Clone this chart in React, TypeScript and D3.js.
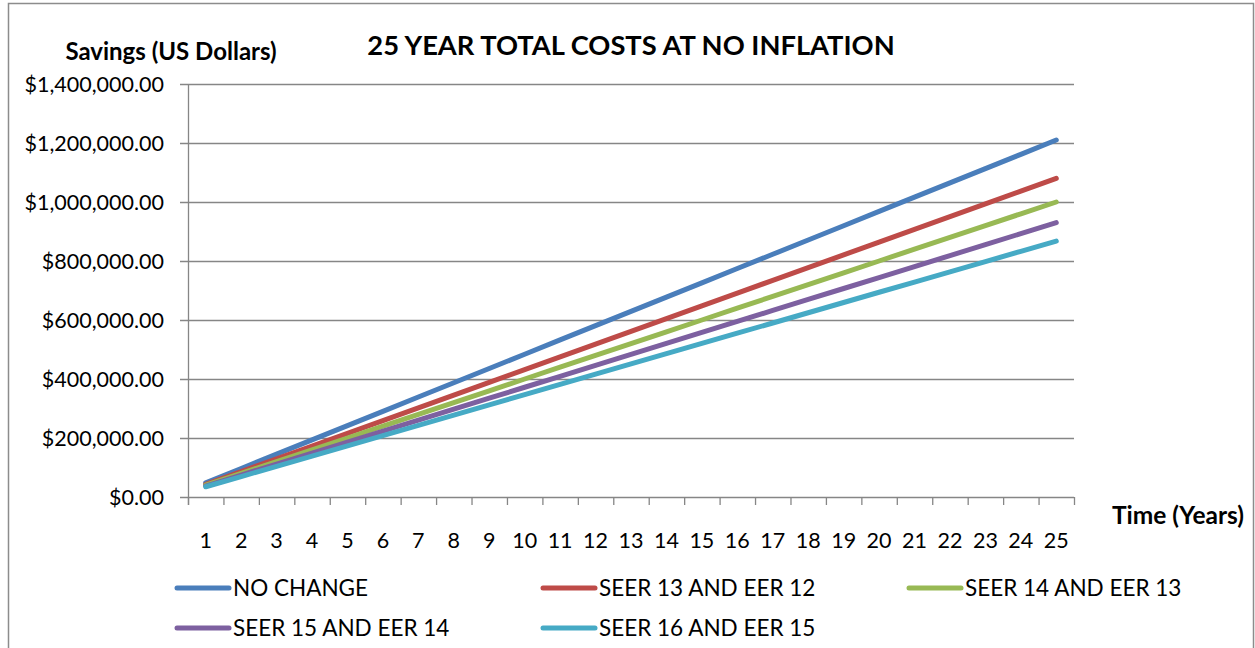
import React, { useEffect, useRef } from "react";
import * as d3 from "d3";

const years = d3.range(1, 26).map(String);

const seriesNames = [
  "NO CHANGE",
  "SEER 13 AND EER 12",
  "SEER 14 AND EER 13",
  "SEER 15 AND EER 14",
  "SEER 16 AND EER 15",
];

const seriesColors = ["#4A7EBB", "#BE4B48", "#98B954", "#7D60A0", "#46AAC5"];

const noChange = [
  48400, 96800, 145200, 193600, 242000, 290400, 338800, 387200, 435600, 484000,
  532400, 580800, 629200, 677600, 726000, 774400, 822800, 871200, 919600, 968000,
  1016400, 1064800, 1113200, 1161600, 1210000,
];
const seer13 = [
  43200, 86400, 129600, 172800, 216000, 259200, 302400, 345600, 388800, 432000,
  475200, 518400, 561600, 604800, 648000, 691200, 734400, 777600, 820800, 864000,
  907200, 950400, 993600, 1036800, 1080000,
];
const seer14 = [
  40000, 80000, 120000, 160000, 200000, 240000, 280000, 320000, 360000, 400000,
  440000, 480000, 520000, 560000, 600000, 640000, 680000, 720000, 760000, 800000,
  840000, 880000, 920000, 960000, 1000000,
];
const seer15 = [
  37200, 74400, 111600, 148800, 186000, 223200, 260400, 297600, 334800, 372000,
  409200, 446400, 483600, 520800, 558000, 595200, 632400, 669600, 706800, 744000,
  781200, 818400, 855600, 892800, 930000,
];
const seer16 = [
  34700, 69400, 104100, 138800, 173500, 208200, 242900, 277600, 312300, 347000,
  381700, 416400, 451100, 485800, 520500, 555200, 589900, 624600, 659300, 694000,
  728700, 763400, 798100, 832800, 867500,
];

const yTicks = [0, 200000, 400000, 600000, 800000, 1000000, 1200000, 1400000];

const FONT = "Lato, 'Open Sans', sans-serif";

const Chart = () => {
  const ref = useRef<SVGSVGElement>(null);

  useEffect(() => {
    const svg = d3.select(ref.current);
    svg.selectAll("*").remove();

    const left = 188,
      right = 1074,
      top = 84,
      bottom = 497;

    // chart border
    svg
      .append("rect")
      .attr("x", 8.5)
      .attr("y", 3.5)
      .attr("width", 1245)
      .attr("height", 700)
      .attr("fill", "#fff")
      .attr("stroke", "#8c8c8c")
      .attr("stroke-width", 1.5);

    const x = d3.scaleBand().domain(years).range([left, right]);
    const y = d3.scaleLinear().domain([0, 1400000]).range([bottom, top]);

    // gridlines
    svg
      .append("g")
      .selectAll("line")
      .data(yTicks)
      .enter()
      .append("line")
      .attr("x1", left - 8)
      .attr("x2", right)
      .attr("y1", (d) => Math.round(y(d)) + 0.5)
      .attr("y2", (d) => Math.round(y(d)) + 0.5)
      .attr("stroke", "#868686")
      .attr("stroke-width", 1.3);

    // y axis line
    svg
      .append("line")
      .attr("x1", left + 0.5)
      .attr("x2", left + 0.5)
      .attr("y1", top)
      .attr("y2", bottom + 8)
      .attr("stroke", "#868686")
      .attr("stroke-width", 1.3);

    // x tick marks at category boundaries
    const bounds = years.map((d) => x(d)!).concat([right]);
    svg
      .append("g")
      .selectAll("line")
      .data(bounds)
      .enter()
      .append("line")
      .attr("x1", (d) => d + 0.5)
      .attr("x2", (d) => d + 0.5)
      .attr("y1", bottom)
      .attr("y2", bottom + 8)
      .attr("stroke", "#868686")
      .attr("stroke-width", 1.3);

    // y tick labels
    const fmt = (v: number) => "$" + d3.format(",.2f")(v);
    svg
      .append("g")
      .selectAll("text")
      .data(yTicks)
      .enter()
      .append("text")
      .attr("x", 164)
      .attr("y", (d) => y(d))
      .attr("dy", "0.35em")
      .attr("text-anchor", "end")
      .attr("font-family", FONT)
      .attr("font-size", 21.5)
      .attr("fill", "#000")
      .text(fmt);

    // x tick labels
    svg
      .append("g")
      .selectAll("text")
      .data(years)
      .enter()
      .append("text")
      .attr("x", (d) => x(d)! + x.bandwidth() / 2)
      .attr("y", 548)
      .attr("text-anchor", "middle")
      .attr("font-family", FONT)
      .attr("font-size", 21.5)
      .attr("fill", "#000")
      .text((d) => d);

    // lines
    const allSeries = [noChange, seer13, seer14, seer15, seer16];
    const line = d3
      .line<number>()
      .x((d, i) => x(years[i])! + x.bandwidth() / 2)
      .y((d) => y(d));

    svg
      .append("g")
      .selectAll("path")
      .data(allSeries)
      .enter()
      .append("path")
      .attr("d", (d) => line(d))
      .attr("fill", "none")
      .attr("stroke", (d, i) => seriesColors[i])
      .attr("stroke-width", 5)
      .attr("stroke-linecap", "round")
      .attr("stroke-linejoin", "round");

    // titles
    svg
      .append("text")
      .attr("x", 631)
      .attr("y", 55)
      .attr("text-anchor", "middle")
      .attr("font-family", FONT)
      .attr("font-weight", "bold")
      .attr("font-size", 27.3)
      .text("25 YEAR TOTAL COSTS AT NO INFLATION");

    svg
      .append("text")
      .attr("x", 171)
      .attr("y", 60)
      .attr("text-anchor", "middle")
      .attr("font-family", FONT)
      .attr("font-weight", "bold")
      .attr("font-size", 24)
      .text("Savings (US Dollars)");

    svg
      .append("text")
      .attr("x", 1178)
      .attr("y", 524)
      .attr("text-anchor", "middle")
      .attr("font-family", FONT)
      .attr("font-weight", "bold")
      .attr("font-size", 24.5)
      .text("Time (Years)");

    // legend
    const legendPos = [
      [175, 588],
      [541, 588],
      [907, 588],
      [175, 628],
      [541, 628],
    ];
    const lg = svg
      .append("g")
      .selectAll("g")
      .data(seriesNames)
      .enter()
      .append("g")
      .attr("transform", (d, i) => `translate(${legendPos[i][0]},${legendPos[i][1]})`);
    lg.append("line")
      .attr("x1", 2)
      .attr("x2", 54)
      .attr("y1", 0)
      .attr("y2", 0)
      .attr("stroke", (d, i) => seriesColors[i])
      .attr("stroke-width", 5)
      .attr("stroke-linecap", "round");
    lg.append("text")
      .attr("x", 58)
      .attr("y", 0)
      .attr("dy", "0.35em")
      .attr("font-family", FONT)
      .attr("font-size", 22.5)
      .text((d) => d);
  }, []);

  return <svg ref={ref} width={1255} height={648} style={{ display: "block" }} />;
};

export default function App() {
  return (
    <div style={{ position: "absolute", left: 0, top: 0 }}>
      <Chart />
    </div>
  );
}
